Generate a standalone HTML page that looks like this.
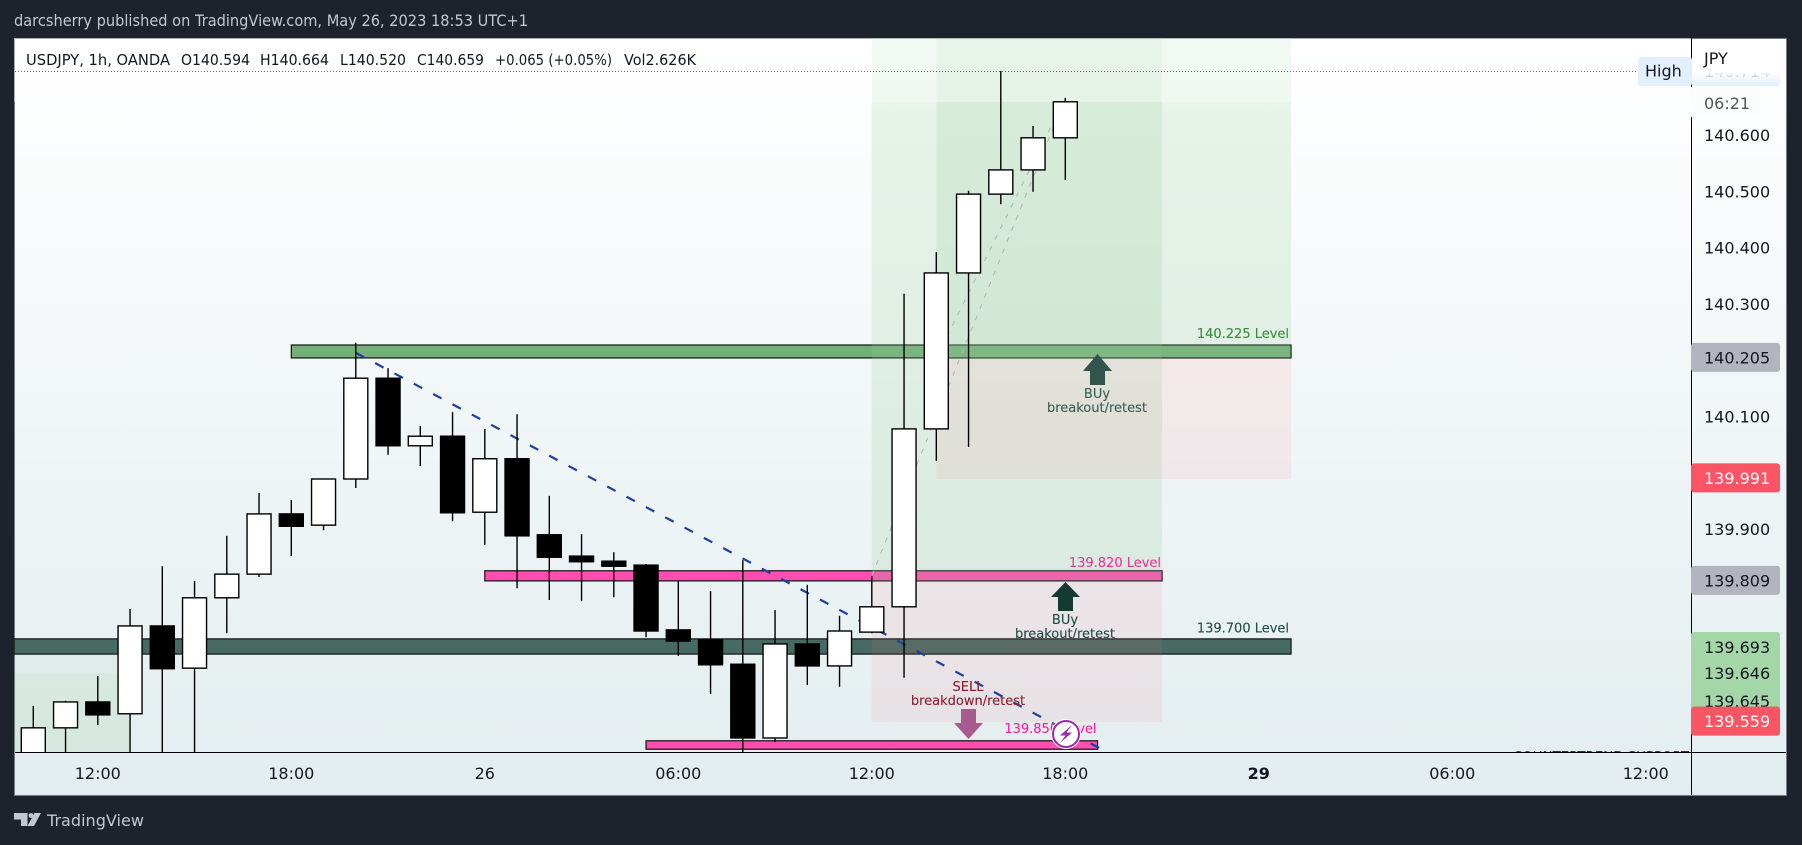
<!DOCTYPE html>
<html lang="en">
<head>
<meta charset="utf-8">
<title>USDJPY 1h chart</title>
<style>
html,body{margin:0;padding:0;background:#1e222d;width:1802px;height:845px;overflow:hidden}
svg{display:block;position:absolute;left:0;top:0}
text{white-space:pre}
.ax{font-family:"DejaVu Sans",sans-serif;font-size:16px;fill:#131722}
.lv{font-family:"DejaVu Sans",sans-serif;font-size:13px;stroke-width:0.12}
.note{font-family:"DejaVu Sans",sans-serif;font-size:13px;text-anchor:middle;stroke-width:0.12}
.lg{font-family:"DejaVu Sans",sans-serif;font-size:15px;fill:#131722}
</style>
</head>
<body>
<svg id="chart" width="1802" height="845" viewBox="0 0 1802 845" xmlns="http://www.w3.org/2000/svg">
  <defs>
    <linearGradient id="paneBg" x1="0" y1="0" x2="0" y2="1">
      <stop offset="0" stop-color="#ffffff"/>
      <stop offset="1" stop-color="#e3edef"/>
    </linearGradient>
    <linearGradient id="fadeTop" x1="0" y1="0" x2="0" y2="1">
      <stop offset="0" stop-color="#ffffff" stop-opacity="1"/>
      <stop offset="0.7" stop-color="#ffffff" stop-opacity="1"/>
      <stop offset="1" stop-color="#ffffff" stop-opacity="0"/>
    </linearGradient>
    <clipPath id="paneClip"><rect x="14" y="38" width="1677" height="714"/></clipPath>
  </defs>

  <text x="14" y="26" font-family="DejaVu Sans, sans-serif" font-size="16" fill="#c5c7cf" textLength="514" lengthAdjust="spacingAndGlyphs">darcsherry published on TradingView.com, May 26, 2023 18:53 UTC+1</text>

  <rect x="14.5" y="38.5" width="1772" height="757" fill="url(#paneBg)" stroke="#787b86" stroke-width="1"/>

  <g id="pane" clip-path="url(#paneClip)"></g>

  <line x1="15" y1="71.5" x2="1638" y2="71.5" stroke="#666" stroke-width="1" stroke-dasharray="1 2"/>

  <g>
    <text class="lg" x="26" y="65" textLength="144" lengthAdjust="spacingAndGlyphs">USDJPY, 1h, OANDA</text>
    <text class="lg" x="181" y="65" textLength="69" lengthAdjust="spacingAndGlyphs">O140.594</text>
    <text class="lg" x="260" y="65" textLength="69" lengthAdjust="spacingAndGlyphs">H140.664</text>
    <text class="lg" x="340" y="65" textLength="66" lengthAdjust="spacingAndGlyphs">L140.520</text>
    <text class="lg" x="417" y="65" textLength="67" lengthAdjust="spacingAndGlyphs">C140.659</text>
    <text class="lg" x="495" y="65" textLength="117" lengthAdjust="spacingAndGlyphs">+0.065 (+0.05%)</text>
    <text class="lg" x="624" y="65" textLength="72" lengthAdjust="spacingAndGlyphs">Vol2.626K</text>
  </g>

  <g id="axes">
    <line x1="1691.5" y1="38" x2="1691.5" y2="795" stroke="#000" stroke-width="1"/>
    <line x1="15" y1="752.5" x2="1786" y2="752.5" stroke="#000" stroke-width="1"/>
  </g>
  <g id="priceTicks"></g>
  <g id="timeTicks"></g>
  <g id="tags"></g>

  <g>
    <rect x="1691" y="57" width="89" height="29" rx="3" fill="#e3effd"/>
    <text class="ax" x="1704" y="77" style="fill:#777">140.714</text>
    <rect x="1692" y="39" width="94" height="47" fill="url(#fadeTop)"/>
    <rect x="1638" y="57" width="53" height="29" rx="3" fill="#e3effd"/>
    <text class="ax" x="1645" y="76.5">High</text>
    <text class="ax" x="1704" y="64">JPY</text>
    <rect x="1690" y="87" width="70" height="30" fill="#fbfcfd"/>
    <text class="ax" x="1704" y="109" style="fill:#555">06:21</text>
  </g>

  <g>
    <path d="M14 813H27.5V826H21V819.5H14Z" fill="#c5c7cf"/>
    <path d="M41 813L34 826H27.5L34.5 813Z" fill="#c5c7cf"/>
    <circle cx="31" cy="815.5" r="2.4" fill="#c5c7cf"/>
    <text x="47" y="826" font-family="DejaVu Sans, sans-serif" font-size="16" fill="#c5c7cf" textLength="97" lengthAdjust="spacingAndGlyphs">TradingView</text>
  </g>
</svg>

<script>
// ---- chart data ----
const opens  = [139.454,139.547,139.593,139.572,139.728,139.653,139.778,139.820,139.927,139.907,139.989,140.168,140.048,140.065,139.930,140.025,139.890,139.852,139.843,139.836,139.721,139.703,139.660,139.529,139.696,139.657,139.717,139.762,140.078,140.355,140.495,140.538,140.595];
const highs  = [139.586,139.595,139.639,139.758,139.834,139.808,139.888,139.964,139.952,139.989,140.231,140.186,140.083,140.108,140.078,140.104,139.959,139.891,139.859,139.838,139.808,139.790,139.845,139.756,139.801,139.746,139.817,140.318,140.392,140.501,140.714,140.616,140.666];
const lows   = [139.419,139.490,139.552,139.472,139.454,139.472,139.715,139.815,139.852,139.898,139.973,140.032,140.012,139.914,139.872,139.795,139.774,139.772,139.779,139.708,139.675,139.607,139.472,139.522,139.623,139.620,139.715,139.636,140.021,140.046,140.477,140.499,140.520];
const closes = [139.547,139.593,139.570,139.728,139.652,139.778,139.820,139.927,139.905,139.989,140.168,140.048,140.065,139.929,140.025,139.888,139.850,139.842,139.834,139.719,139.701,139.659,139.529,139.696,139.657,139.719,139.762,140.078,140.355,140.495,140.538,140.595,140.659];
const bearFlags = [0,0,1,0,1,0,0,0,1,0,0,1,0,1,0,1,1,1,1,1,1,1,1,0,1,0,0,0,0,0,0,0,0];
const priceTicks = [140.6,140.5,140.4,140.3,140.1,139.9];
const priceTickLabels = ["140.600","140.500","140.400","140.300","140.100","139.900"];
const timeTickBars = [2,8,14,20,26,32,38,44,50];
const timeTickLabels = ["12:00","18:00","26","06:00","12:00","18:00","29","06:00","12:00"];
const levelNames = ["level-140-225","level-139-820","level-139-700","level-139-850"];
const levelStartBars = [8,14,-1,19];
const levelEndBars = [39,35,39,33];
const levelTops = [140.227,139.826,139.705,139.524];
const levelBottoms = [140.204,139.808,139.678,139.509];
const levelColors = ["#72b077","#ff4db0","#476b63","#ff4db0"];
const tagPrices = [140.205,139.991,139.809,139.559];
const tagLabels = ["140.205","139.991","139.809","139.559"];
const tagFills = ["#b2b5be","#f95565","#b2b5be","#f95565"];
const tagTextFills = ["#131722","#ffffff","#131722","#ffffff"];

// ---- axis functions ----
function xAt(bar){ return 33.3 + 32.25 * bar; }
function yAt(price){ return 135 + (140.6 - price) * 563; }

const NS = "http://www.w3.org/2000/svg";
function mk(parent, tag, attrs, text){
  const el = document.createElementNS(NS, tag);
  for (const k in attrs) el.setAttribute(k, attrs[k]);
  if (text !== undefined) el.textContent = text;
  parent.appendChild(el);
  return el;
}
const pane = document.getElementById("pane");
let el;
const boxGreen = "rgba(150,205,155,0.2)";
const boxRed = "rgba(250,120,130,0.1)";

// bottom-left green zone
el = mk(pane, "rect", {x:14, y:yAt(139.692), width:xAt(3)-14, height:110, fill:"rgba(76,175,80,0.05)"});


el = mk(pane, "rect", {x:14, y:yAt(139.645), width:xAt(3)-14, height:80, fill:"rgba(76,175,80,0.05)"});



// horizontal level bands
levelNames.forEach(function(name, i){
  const left = levelStartBars[i] < 0 ? 14 : xAt(levelStartBars[i]);
  const b = mk(pane, "rect", {
    x:left, y:yAt(levelTops[i]),
    width:xAt(levelEndBars[i]) - left,
    height:yAt(levelBottoms[i]) - yAt(levelTops[i]),
    fill:levelColors[i], stroke:"#111", "stroke-width":1.2
  });
  
  
});

// long-position boxes
el = mk(pane, "rect", {x:xAt(26), y:30, width:xAt(35)-xAt(26), height:yAt(139.808)-30, fill:boxGreen});


el = mk(pane, "rect", {x:xAt(26), y:yAt(139.808), width:xAt(35)-xAt(26), height:yAt(139.557)-yAt(139.808), fill:boxRed});


el = mk(pane, "rect", {x:xAt(28), y:30, width:xAt(39)-xAt(28), height:yAt(140.204)-30, fill:boxGreen});


el = mk(pane, "rect", {x:xAt(28), y:yAt(140.204), width:xAt(39)-xAt(28), height:yAt(139.989)-yAt(140.204), fill:boxRed});



// pale wash at top of the pane
el = mk(pane, "rect", {x:14, y:38, width:1677, height:64, fill:"rgba(255,255,255,0.4)"});



// position path lines
el = mk(pane, "line", {x1:xAt(26), y1:yAt(139.817), x2:xAt(32), y2:yAt(140.666), stroke:"#b5b5b5", "stroke-width":1.1, "stroke-dasharray":"5 7"});


el = mk(pane, "line", {x1:xAt(28), y1:yAt(140.204), x2:xAt(32), y2:yAt(140.666), stroke:"#b5b5b5", "stroke-width":1.1, "stroke-dasharray":"5 7"});



// falling trend line
el = mk(pane, "line", {x1:xAt(10), y1:yAt(140.213), x2:xAt(33.16), y2:yAt(139.508), stroke:"#1c3fa5", "stroke-width":2.2, "stroke-dasharray":"9.5 12.4"});



// candles
opens.forEach(function(o, i){
  const c = closes[i], cx = xAt(i);
  const bear = bearFlags[i] === 1;
  const top = yAt(Math.max(o, c)), bot = yAt(Math.min(o, c));
  const g = mk(pane, "g", {});
  
  
  const w = mk(g, "line", {x1:cx, x2:cx, y1:yAt(highs[i]), y2:yAt(lows[i]), stroke:"#000", "stroke-width":1.4});
  
  
  const b = mk(g, "rect", {x:cx-12, y:top, width:24, height:bot-top, fill:bear ? "#000" : "#fff", stroke:"#000", "stroke-width":1.4});
  
  
});

// annotations
el = mk(pane, "text", {class:"lv", x:xAt(39)-2, y:yAt(140.225)-8, "text-anchor":"end", fill:"#388e3c", stroke:"#388e3c"}, "140.225 Level");


el = mk(pane, "text", {class:"lv", x:xAt(35)-1, y:yAt(139.82)-7, "text-anchor":"end", fill:"#f0349b", stroke:"#f0349b"}, "139.820 Level");


el = mk(pane, "text", {class:"lv", x:xAt(39)-2, y:yAt(139.7)-9, "text-anchor":"end", fill:"#1e4c44", stroke:"#1e4c44"}, "139.700 Level");


el = mk(pane, "text", {class:"lv", x:xAt(33)-1, y:733, "text-anchor":"end", fill:"#ff1ea0", stroke:"#ff1ea0"}, "139.850 Level");



el = mk(pane, "path", {d:"M1097.5 354L1112 371H1105V385H1090V371H1083Z", fill:"#32544a"});


el = mk(pane, "text", {class:"note", x:1097, y:398, fill:"#3a5f54", stroke:"#3a5f54"}, "BUy");


el = mk(pane, "text", {class:"note", x:1097, y:412, fill:"#3a5f54", stroke:"#3a5f54"}, "breakout/retest");



el = mk(pane, "path", {d:"M1065.5 582L1080 597H1073V611H1058V597H1051Z", fill:"#143a32"});


el = mk(pane, "text", {class:"note", x:1065, y:624, fill:"#1e4c44", stroke:"#1e4c44"}, "BUy");


el = mk(pane, "text", {class:"note", x:1065, y:638, fill:"#1e4c44", stroke:"#1e4c44"}, "breakout/retest");



el = mk(pane, "path", {d:"M961 709H976V723H983L968.5 739L954 723H961Z", fill:"#a85b8e"});


el = mk(pane, "text", {class:"note", x:968, y:691, fill:"#8b1f2f", stroke:"#8b1f2f"}, "SELL");


el = mk(pane, "text", {class:"note", x:968, y:705, fill:"#8b1f2f", stroke:"#8b1f2f"}, "breakdown/retest");



el = mk(pane, "circle", {cx:1066, cy:734, r:15, fill:"#fff"});


el = mk(pane, "circle", {cx:1066, cy:734, r:13, fill:"#fff", stroke:"#9c27b0", "stroke-width":2});


el = mk(pane, "path", {d:"M1072 725L1060 735.5H1065.5L1060 743L1072 732.5H1066.5Z", fill:"#9c27b0"});



el = mk(pane, "text", {x:1513, y:761, "font-family":"DejaVu Sans, sans-serif", "font-size":"13", fill:"#7a1020", textLength:"176", lengthAdjust:"spacingAndGlyphs"}, "COUNTERTREND SUPPORT");



// price axis ticks
const pt = document.getElementById("priceTicks");
priceTicks.forEach(function(p, i){
  const t = mk(pt, "text", {class:"ax", x:1704, y:yAt(p)+6}, priceTickLabels[i]);
  
  
});

// time axis ticks
const tt = document.getElementById("timeTicks");
timeTickBars.forEach(function(b, i){
  const t = mk(tt, "text", {class:"ax", x:xAt(b), y:779, "text-anchor":"middle"}, timeTickLabels[i]);
  
  
  if (timeTickLabels[i] === "29") t.setAttribute("font-weight", "bold");
});

// price tags
const tagsG = document.getElementById("tags");
el = mk(tagsG, "rect", {x:1691, y:632, width:89, height:84, rx:3, fill:"#a5d6a7"});


el = mk(tagsG, "text", {class:"ax", x:1704, y:653}, "139.693");


el = mk(tagsG, "text", {class:"ax", x:1704, y:679}, "139.646");


el = mk(tagsG, "text", {class:"ax", x:1704, y:707}, "139.645");


tagPrices.forEach(function(p, i){
  const cy = yAt(p);
  const r = mk(tagsG, "rect", {x:1691, y:cy-14.5, width:89, height:29, rx:3, fill:tagFills[i]});
  
  
  const t = mk(tagsG, "text", {class:"ax", x:1704, y:cy+6}, tagLabels[i]);
  t.setAttribute('style', 'fill:' + tagTextFills[i]);
  
  
});
</script>
</body>
</html>
